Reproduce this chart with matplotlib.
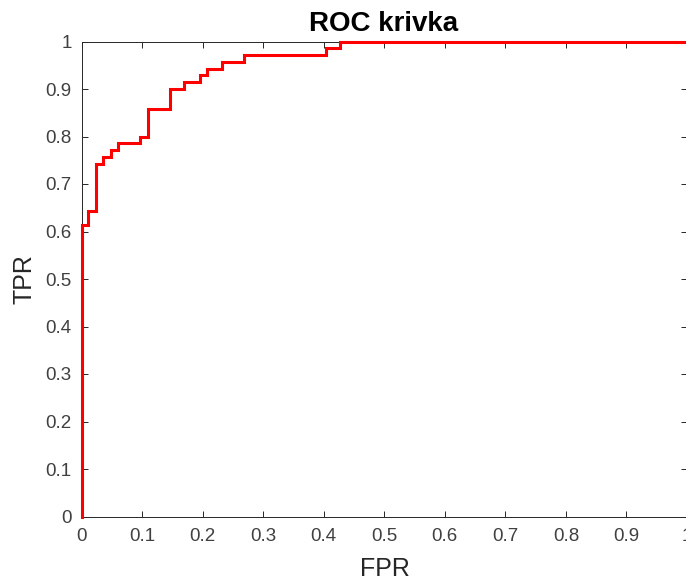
import matplotlib
matplotlib.use("Agg")
import matplotlib.pyplot as plt
import numpy as np

plt.rcParams['font.family'] = ['Liberation Sans', 'DejaVu Sans']

# ROC curve vertices (steps-pre: level tpr[i+1] spans fpr[i]..fpr[i+1])
fpr = [0, 0.011, 0.0235, 0.036, 0.048, 0.061, 0.097, 0.1095, 0.1465,
       0.170, 0.195, 0.207, 0.232, 0.269, 0.403, 0.427, 1.0]
tpr = [0, 0.614, 0.643, 0.743, 0.757, 0.771, 0.786, 0.800, 0.857,
       0.900, 0.914, 0.929, 0.943, 0.957, 0.971, 0.986, 1.0]
ticks = [0, 0.1, 0.2, 0.3, 0.4, 0.5, 0.6, 0.7, 0.8, 0.9, 1]
tick_labels = ['0', '0.1', '0.2', '0.3', '0.4', '0.5', '0.6', '0.7', '0.8', '0.9', '1']

W, H = 686, 581
fig = plt.figure(figsize=(W / 100, H / 100), dpi=100)
left, right, top, bottom = 81.5, 687.0, 41.5, 516.5
ax = fig.add_axes([left / W, (H - bottom) / H, (right - left) / W, (bottom - top) / H])

ax.plot(fpr, tpr, drawstyle='steps-pre', color='#ff0000', lw=2.2,
        clip_on=False, zorder=5, solid_joinstyle='miter')

ax.set_xlim(0, 1)
ax.set_ylim(0, 1)
ax.set_xticks(ticks)
ax.set_xticklabels(tick_labels)
ax.set_yticks(ticks)
ax.set_yticklabels(tick_labels)

axcol = '#262626'
for s in ax.spines.values():
    s.set_color(axcol)
    s.set_linewidth(0.7)
ax.tick_params(direction='in', length=4.5, width=0.7, color=axcol,
               labelcolor='#404040', labelsize=13.5, top=True, right=True)
ax.tick_params(axis='x', pad=8)
ax.tick_params(axis='y', pad=7)

fig.text(383.5 / W, (H - 30.7) / H, 'ROC krivka', ha='center', va='baseline',
         fontsize=20, fontweight='bold', color='black')
fig.text(385 / W, (H - 576) / H, 'FPR', ha='center', va='baseline',
         fontsize=18, color='#262626')
fig.text(32 / W, (H - 279) / H, 'TPR', ha='center', va='baseline',
         rotation=90, rotation_mode='anchor', fontsize=18, color='#262626')

fig.savefig('out.png', dpi=100)
